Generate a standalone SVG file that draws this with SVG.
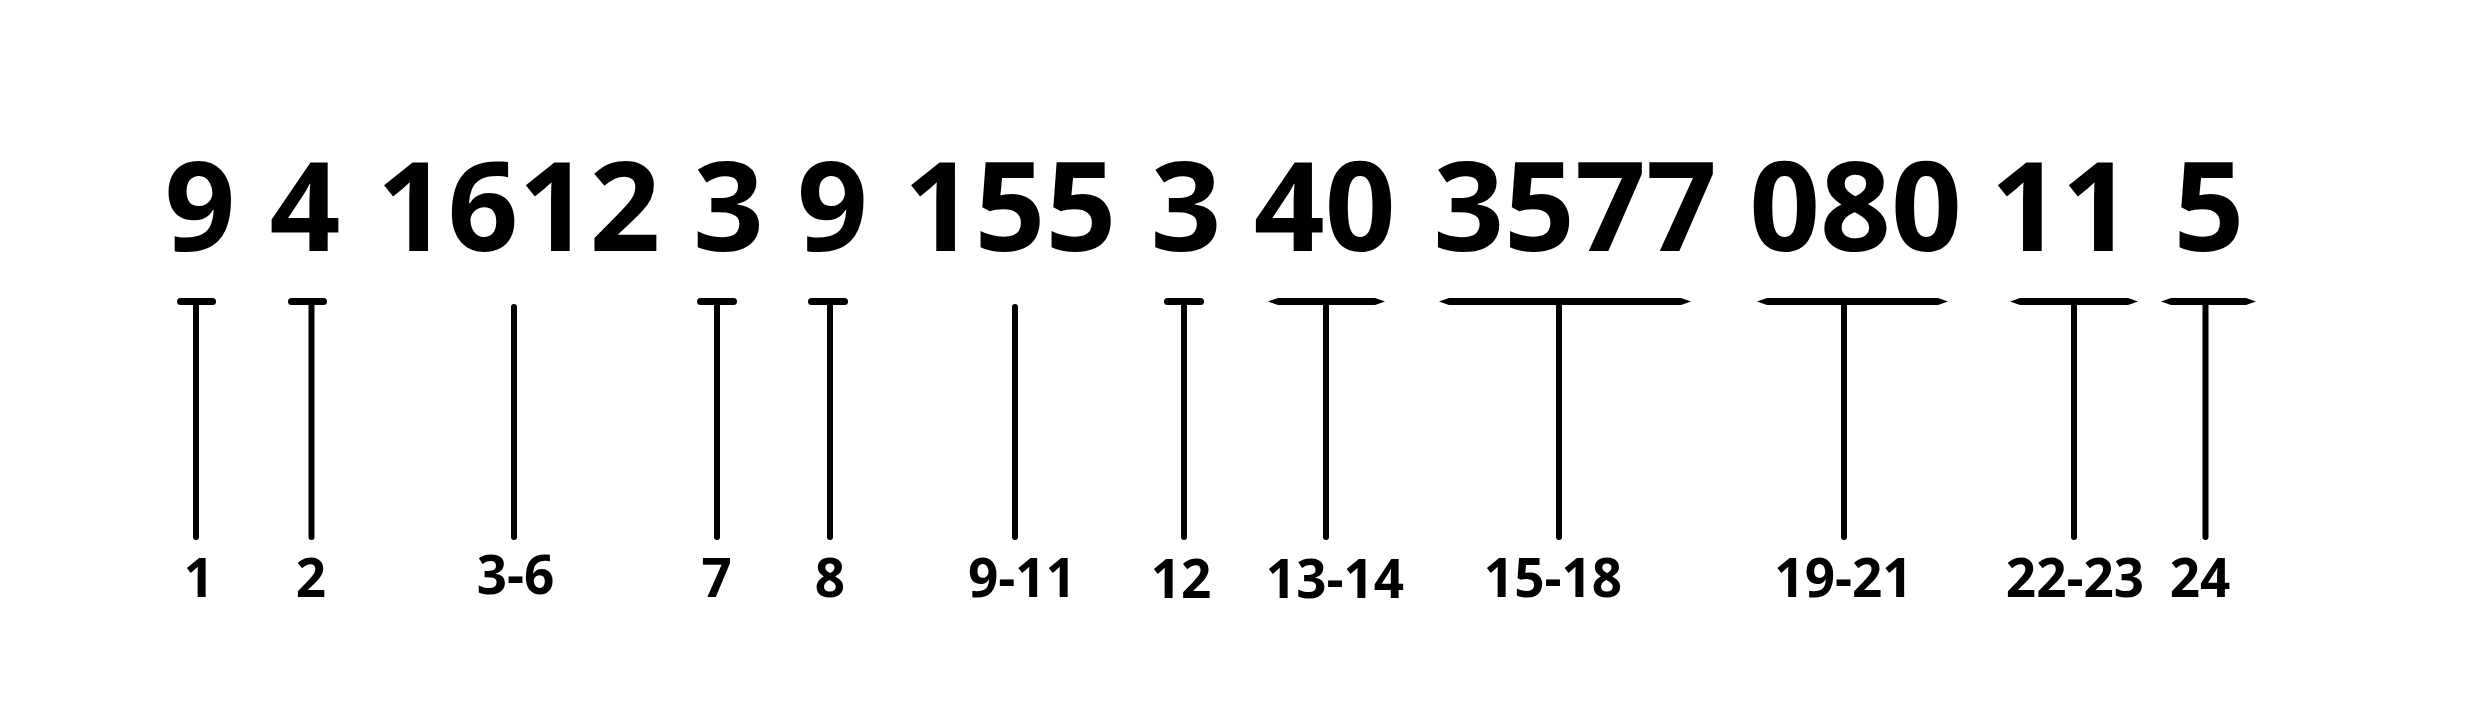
<svg xmlns="http://www.w3.org/2000/svg" width="2480" height="711" viewBox="0 0 2480 711">
<style>
.big{font-family:"Open Sans","Noto Sans","Liberation Sans",sans-serif;font-weight:700;font-size:124px;fill:#000;text-anchor:middle}
.lab{font-family:"Open Sans","Noto Sans","Liberation Sans",sans-serif;font-weight:700;font-size:53px;fill:#000;text-anchor:middle}
.bar{stroke:#000;stroke-width:7;stroke-linecap:round;fill:none}
.tbar{fill:#000;stroke:none}
.stem{stroke:#000;stroke-width:6;stroke-linecap:round;fill:none}
</style>
<rect width="2480" height="711" fill="#fff"/>
<g id="digits">
<g id="d1"><text class="big" x="200" y="250.5">9</text></g>
<g id="d2"><text class="big" x="305" y="250.5">4</text></g>
<g id="d3"><text class="big" x="518.5" y="250.5">1612</text></g>
<g id="d4"><text class="big" x="728.5" y="250.5">3</text></g>
<g id="d5"><text class="big" x="832.5" y="250.5">9</text></g>
<g id="d6"><text class="big" x="1010" y="250.5">155</text></g>
<g id="d7"><text class="big" x="1186" y="250.5">3</text></g>
<g id="d8"><text class="big" x="1324.7" y="250.5">40</text></g>
<g id="d9"><text class="big" x="1575" y="250.5">3577</text></g>
<g id="d10"><text class="big" x="1855.5" y="250.5">080</text></g>
<g id="d11"><text class="big" x="2061.5" y="250.5">11</text></g>
<g id="d12"><text class="big" x="2209" y="250.5">5</text></g>
</g>
<g id="connectors">
<line class="bar" x1="180.5" y1="301.5" x2="212.5" y2="301.5"/>
<line class="stem" x1="196" y1="303" x2="196" y2="537"/>
<line class="bar" x1="291.5" y1="301.5" x2="323.5" y2="301.5"/>
<line class="stem" x1="311.5" y1="303" x2="311.5" y2="537"/>
<line class="stem" x1="514" y1="307" x2="514" y2="537"/>
<line class="bar" x1="700.5" y1="301.5" x2="733.5" y2="301.5"/>
<line class="stem" x1="717" y1="303" x2="717" y2="537"/>
<line class="bar" x1="811.5" y1="301.5" x2="844.5" y2="301.5"/>
<line class="stem" x1="830" y1="303" x2="830" y2="537"/>
<line class="stem" x1="1015" y1="307" x2="1015" y2="537"/>
<line class="bar" x1="1167.5" y1="301.5" x2="1200.5" y2="301.5"/>
<line class="stem" x1="1184" y1="303" x2="1184" y2="537"/>
<polygon class="tbar" points="1268,301.5 1278,298 1375,298 1385,301.5 1375,305 1278,305"/>
<line class="stem" x1="1326" y1="303" x2="1326" y2="537"/>
<polygon class="tbar" points="1439,301.5 1449,298 1681,298 1691,301.5 1681,305 1449,305"/>
<line class="stem" x1="1559" y1="303" x2="1559" y2="537"/>
<polygon class="tbar" points="1757,301.5 1767,298 1938,298 1948,301.5 1938,305 1767,305"/>
<line class="stem" x1="1844" y1="303" x2="1844" y2="537"/>
<polygon class="tbar" points="2010,301.5 2020,298 2128,298 2138,301.5 2128,305 2020,305"/>
<line class="stem" x1="2074" y1="303" x2="2074" y2="537"/>
<polygon class="tbar" points="2161,301.5 2171,298 2246,298 2256,301.5 2246,305 2171,305"/>
<line class="stem" x1="2205.5" y1="303" x2="2205.5" y2="537"/>
</g>
<g id="labels">
<g id="l1"><text class="lab" x="199" y="597">1</text></g>
<g id="l2"><text class="lab" x="311" y="597">2</text></g>
<g id="l3"><text class="lab" x="515.5" y="593.5">3-6</text></g>
<g id="l4"><text class="lab" x="716.7" y="597">7</text></g>
<g id="l5"><text class="lab" x="830" y="597">8</text></g>
<g id="l6"><text class="lab" x="1022" y="597">9-11</text></g>
<g id="l7"><text class="lab" x="1181" y="598">12</text></g>
<g id="l8"><text class="lab" x="1335" y="598">13-14</text></g>
<g id="l9"><text class="lab" x="1553" y="597">15-18</text></g>
<g id="l10"><text class="lab" x="1843.5" y="597">19-21</text></g>
<g id="l11"><text class="lab" x="2075" y="597">22-23</text></g>
<g id="l12"><text class="lab" x="2200" y="597">24</text></g>
</g>
</svg>
